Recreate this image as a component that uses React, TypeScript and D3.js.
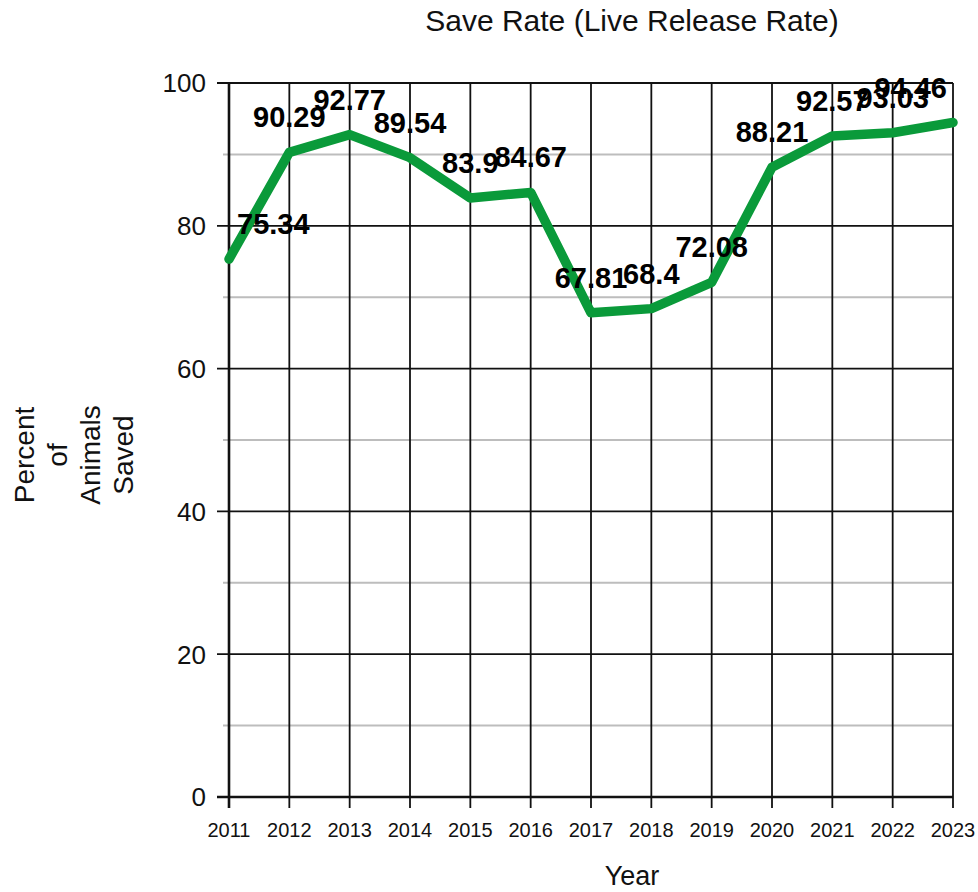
import { useEffect, useRef } from 'react';
import * as d3 from 'd3';

const years = ['2011', '2012', '2013', '2014', '2015', '2016', '2017', '2018', '2019', '2020', '2021', '2022', '2023'];
const saveRates = [75.34, 90.29, 92.77, 89.54, 83.9, 84.67, 67.81, 68.4, 72.08, 88.21, 92.57, 93.03, 94.46];
const majorTicks = [0, 20, 40, 60, 80, 100];
const minorTicks = [10, 30, 50, 70, 90];
const yLabelLines = ['Percent', 'of', 'Animals', 'Saved'];

const WIDTH = 978;
const HEIGHT = 892;
const FONT = '"Liberation Sans", Arial, sans-serif';

export default function App() {
  const svgRef = useRef<SVGSVGElement>(null);

  useEffect(() => {
    if (!svgRef.current) return;
    const svg = d3.select(svgRef.current);
    svg.selectAll('*').remove();

    const left = 229, right = 953, top = 83, bottom = 797;

    const x = d3.scalePoint<string>().domain(years).range([left, right]);
    const y = d3.scaleLinear().domain([0, 100]).range([bottom, top]);

    const data = years.map((yr, i) => ({ year: yr, value: saveRates[i] }));

    // minor gray gridlines
    svg.append('g')
      .selectAll('line')
      .data(minorTicks)
      .join('line')
      .attr('x1', left - 6)
      .attr('x2', right)
      .attr('y1', d => y(d))
      .attr('y2', d => y(d))
      .attr('stroke', '#bdbdbd')
      .attr('stroke-width', 2);

    // major horizontal gridlines + ticks
    svg.append('g')
      .selectAll('line')
      .data(majorTicks)
      .join('line')
      .attr('x1', left - 12)
      .attr('x2', right)
      .attr('y1', d => y(d))
      .attr('y2', d => y(d))
      .attr('stroke', '#111')
      .attr('stroke-width', d => (d === 0 ? 2.6 : 1.8));

    // vertical gridlines + ticks
    svg.append('g')
      .selectAll('line')
      .data(years)
      .join('line')
      .attr('x1', d => x(d)!)
      .attr('x2', d => x(d)!)
      .attr('y1', top)
      .attr('y2', bottom + 11)
      .attr('stroke', '#111')
      .attr('stroke-width', (d, i) => (i === 0 ? 2.6 : 1.8));

    // y tick labels
    svg.append('g')
      .selectAll('text')
      .data(majorTicks)
      .join('text')
      .attr('x', left - 23)
      .attr('y', d => y(d))
      .attr('dy', '0.36em')
      .attr('text-anchor', 'end')
      .style('font-family', FONT)
      .style('font-size', '26px')
      .style('fill', '#111')
      .text(d => d);

    // x tick labels
    svg.append('g')
      .selectAll('text')
      .data(years)
      .join('text')
      .attr('x', d => x(d)!)
      .attr('y', bottom + 40)
      .attr('text-anchor', 'middle')
      .style('font-family', FONT)
      .style('font-size', '20px')
      .style('fill', '#111')
      .text(d => d);

    // line
    const line = d3.line<{ year: string; value: number }>()
      .x(d => x(d.year)!)
      .y(d => y(d.value));

    svg.append('path')
      .datum(data)
      .attr('d', line)
      .attr('fill', 'none')
      .attr('stroke', '#0a9a3a')
      .attr('stroke-width', 9.5)
      .attr('stroke-linejoin', 'round')
      .attr('stroke-linecap', 'round');

    // value labels
    const labels = svg.append('g')
      .selectAll('text')
      .data(data)
      .join('text')
      .attr('x', d => x(d.year)!)
      .attr('y', d => y(d.value) - 25)
      .attr('text-anchor', 'middle')
      .style('font-family', FONT)
      .style('font-size', '29px')
      .style('font-weight', 'bold')
      .style('fill', '#000')
      .text(d => d.value);

    labels.each(function(d) {
      const el = this as SVGTextElement;
      const w = el.getComputedTextLength();
      let cx = x(d.year)!;
      cx = Math.max(cx, left + 8 + w / 2);
      cx = Math.min(cx, right - 6 - w / 2);
      d3.select(el).attr('x', cx);
    });

    // title
    svg.append('text')
      .attr('x', 632)
      .attr('y', 31)
      .attr('text-anchor', 'middle')
      .style('font-family', FONT)
      .style('font-size', '30px')
      .style('fill', '#111')
      .text('Save Rate (Live Release Rate)');

    // x axis title
    svg.append('text')
      .attr('x', 632)
      .attr('y', 885)
      .attr('text-anchor', 'middle')
      .style('font-family', FONT)
      .style('font-size', '27px')
      .style('fill', '#111')
      .text('Year');

    // y axis title, multi-line rotated
    svg.append('g')
      .selectAll('text')
      .data(yLabelLines)
      .join('text')
      .attr('transform', (d, i) => `translate(${34 + i * 33},455) rotate(-90)`)
      .attr('text-anchor', 'middle')
      .style('font-family', FONT)
      .style('font-size', '28px')
      .style('fill', '#111')
      .text(d => d);
  }, []);

  return (
    <svg
      ref={svgRef}
      width={WIDTH}
      height={HEIGHT}
      style={{ position: 'absolute', left: 0, top: 0, display: 'block', background: '#fff' }}
    />
  );
}
